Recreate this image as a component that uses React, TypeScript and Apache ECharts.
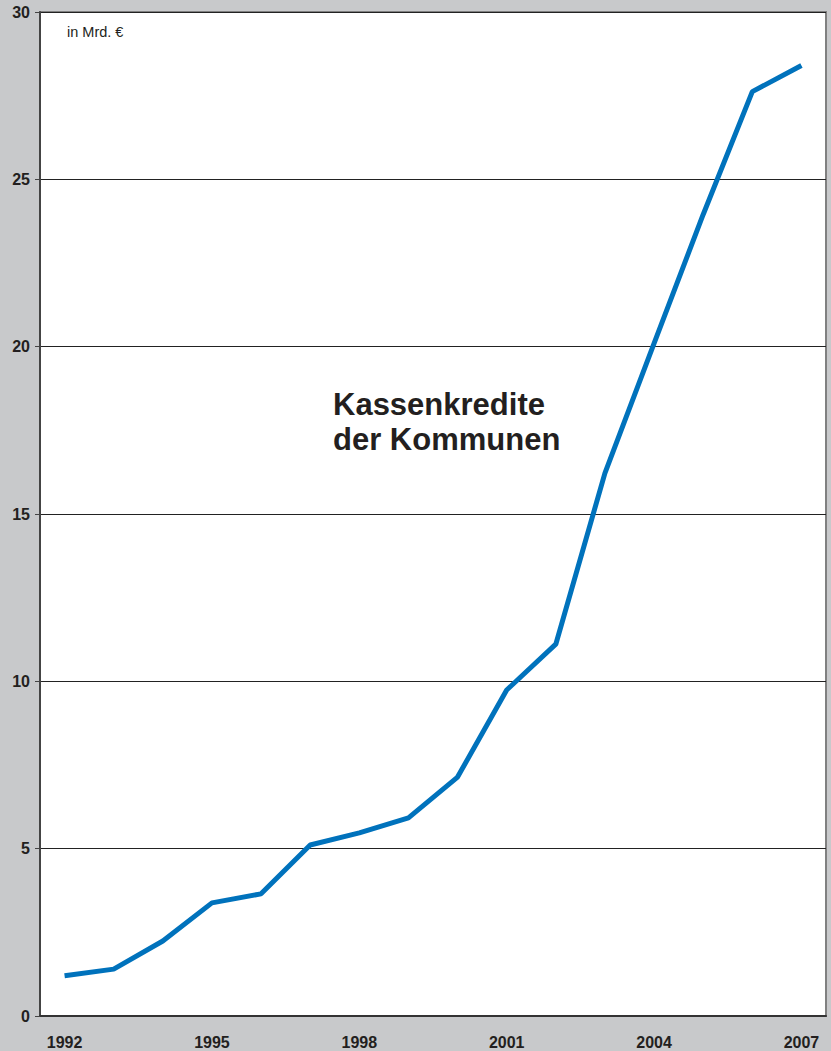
import React, { useEffect, useRef } from "react";
import * as echarts from "echarts";

const years = ["1992","1993","1994","1995","1996","1997","1998","1999","2000","2001","2002","2003","2004","2005","2006","2007"];
const values = [1.2, 1.4, 2.24, 3.38, 3.65, 5.11, 5.47, 5.92, 7.14, 9.74, 11.11, 16.22, 20.1, 23.95, 27.62, 28.4];
const yTicks = [0, 5, 10, 15, 20, 25, 30];
const unitLabel = "in Mrd. €";
const titleLines = ["Kassenkredite", "der Kommunen"];

export default function App() {
  const ref = useRef<HTMLDivElement>(null);
  useEffect(() => {
    const chart = echarts.init(ref.current!, null, { renderer: "svg" });
    chart.setOption({
      animation: false,
      backgroundColor: "#c8c9cb",
      textStyle: { fontFamily: "Liberation Sans, Arial, sans-serif" },
      grid: {
        left: 40, right: 5, top: 12, bottom: 35,
        show: true, backgroundColor: "#ffffff", borderColor: "#808080", borderWidth: 2,
      },
      xAxis: {
        type: "category",
        data: years,
        boundaryGap: true,
        axisLine: { lineStyle: { color: "#333333", width: 2 } },
        axisTick: { show: false },
        axisLabel: {
          interval: (i: number) => i % 3 === 0,
          color: "#231f20", fontWeight: "bold", fontSize: 16, margin: 18,
        },
      },
      yAxis: {
        type: "value",
        min: 0, max: 30, interval: 5,
        axisLine: { show: true, lineStyle: { color: "#444444", width: 2 } },
        axisTick: { show: true, length: 5, lineStyle: { color: "#444444" } },
        axisLabel: {
          color: "#231f20", fontWeight: "bold", fontSize: 16, margin: 10,
          formatter: (v: number) => (yTicks.includes(v) ? String(v) : ""),
        },
        splitLine: { show: true, lineStyle: { color: "#222222", width: 1 } },
      },
      graphic: [
        {
          type: "text", left: 67, top: 24,
          style: { text: unitLabel, fontSize: 14.5, fill: "#231f20", fontFamily: "Liberation Sans, Arial, sans-serif" },
        },
        {
          type: "text", left: 333, top: 387,
          style: {
            text: titleLines.join("\n"), fontSize: 31, fontWeight: "bold", lineHeight: 35,
            fill: "#231f20", fontFamily: "Liberation Sans, Arial, sans-serif",
          },
        },
      ],
      series: [
        {
          type: "line",
          data: values,
          symbol: "none",
          lineStyle: { color: "#0072bc", width: 5 },
        },
      ],
    });
    return () => chart.dispose();
  }, []);
  return <div ref={ref} style={{ width: 831, height: 1051, position: "absolute", left: 0, top: 0 }} />;
}
